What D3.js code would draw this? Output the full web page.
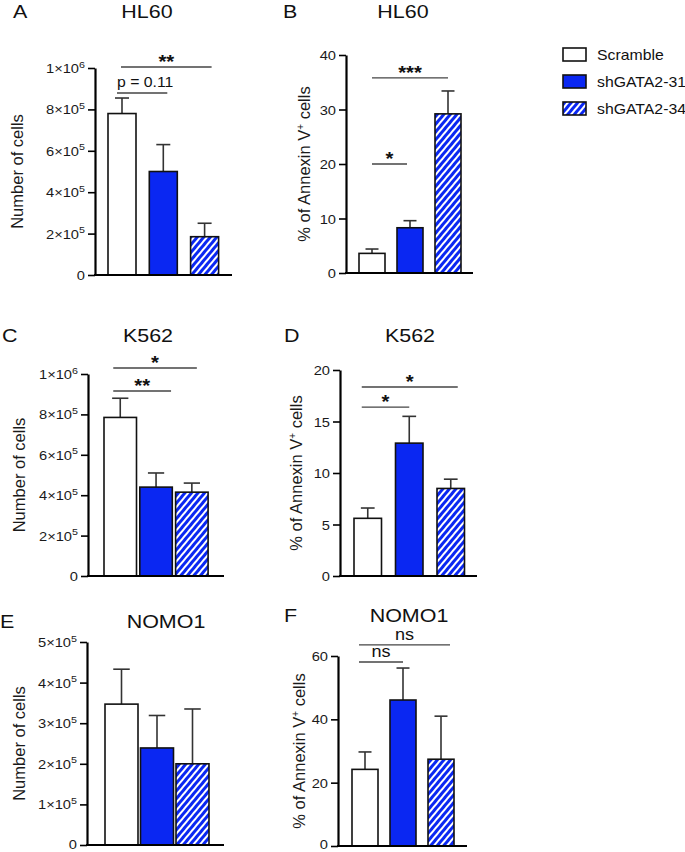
<!DOCTYPE html>
<html><head><meta charset="utf-8">
<script src="https://cdn.jsdelivr.net/npm/d3@7"></script>
<style>body{margin:0;background:#fff} svg{display:block}</style>
</head><body>
<svg id="chart" width="685" height="852"></svg>
<script>
// ---------- DATA ----------
const groups = ["Scramble", "shGATA2-31", "shGATA2-34"];

const hl60Cells = [7.8e5, 5.0e5, 1.85e5];
const hl60CellsErr = [0.75e5, 1.3e5, 0.65e5];
const hl60Annexin = [3.6, 8.3, 29.2];
const hl60AnnexinErr = [0.8, 1.3, 4.2];
const k562Cells = [7.85e5, 4.4e5, 4.15e5];
const k562CellsErr = [0.95e5, 0.7e5, 0.45e5];
const k562Annexin = [5.6, 12.9, 8.5];
const k562AnnexinErr = [1.0, 2.6, 0.9];
const nomo1Cells = [3.47e5, 2.39e5, 2.0e5];
const nomo1CellsErr = [0.86e5, 0.8e5, 1.35e5];
const nomo1Annexin = [24.2, 46.1, 27.4];
const nomo1AnnexinErr = [5.5, 10.1, 13.6];

const cellTicks1e6 = [0, 2e5, 4e5, 6e5, 8e5, 1e6];
const cellTicks5e5 = [0, 1e5, 2e5, 3e5, 4e5, 5e5];
const annexinTicks40 = [0, 10, 20, 30, 40];
const annexinTicks20 = [0, 5, 10, 15, 20];
const annexinTicks60 = [0, 20, 40, 60];

// significance comparisons: [from group, to group, level (data units), label]
const sigA = [[0, 2, 1.005e6, "**"], [0, 1, 0.879e6, "p = 0.11"]];
const sigB = [[0, 2, 35.8, "***"], [0, 1, 20.0, "*"]];
const sigC = [[0, 2, 1.03e6, "*"], [0, 1, 0.916e6, "**"]];
const sigD = [[0, 2, 18.35, "*"], [0, 1, 16.4, "*"]];
const sigE = [];
const sigF = [[0, 2, 63.5, "ns"], [0, 1, 58.1, "ns"]];

// ---------- LAYOUT ----------
const FONT = "'Liberation Sans', Arial, Helvetica, sans-serif";
const SX = 1.13; // horizontal stretch of text in the reference
const BLUE = "#0a27f2";
const cellLabel = "Number of cells";

const panels = [
  {letter: "A", title: "HL60", values: hl60Cells, errs: hl60CellsErr, ticks: cellTicks1e6, sci: true, ylab: "cells",
   ax: 95, axEnd: 232, y0: 275, y1: 68, barStart: 108, bw: 28, gap: 13.3, sig: sigA, sigOff: [[-1, 7], [-5, 4]],
   titleX: 147, titleY: 18, letterX: 13, labX: 23},
  {letter: "B", title: "HL60", values: hl60Annexin, errs: hl60AnnexinErr, ticks: annexinTicks40, sci: false, ylab: "annexin",
   ax: 346, axEnd: 473, y0: 273, y1: 55, barStart: 359, bw: 26, gap: 12, sig: sigB, sigOff: [[0, 0], [0, -3]],
   titleX: 403, titleY: 18, letterX: 283, labX: 310},
  {letter: "C", title: "K562", values: k562Cells, errs: k562CellsErr, ticks: cellTicks1e6, sci: true, ylab: "cells",
   ax: 88, axEnd: 224, y0: 576, y1: 374, barStart: 104, bw: 32.5, gap: 3.3, sig: sigC, sigOff: [[-7, 5], [-7, 15]],
   titleX: 148, titleY: 342, letterX: 2, labX: 25},
  {letter: "D", title: "K562", values: k562Annexin, errs: k562AnnexinErr, ticks: annexinTicks20, sci: false, ylab: "annexin",
   ax: 340, axEnd: 477, y0: 576, y1: 370, barStart: 354, bw: 27.5, gap: 14, sig: sigD, sigOff: [[-6, 7], [-6, 0]],
   titleX: 410, titleY: 342, letterX: 284, labX: 302},
  {letter: "E", title: "NOMO1", values: nomo1Cells, errs: nomo1CellsErr, ticks: cellTicks5e5, sci: true, ylab: "cells",
   ax: 87, axEnd: 224, y0: 845, y1: 642, barStart: 105, bw: 33, gap: 2.5, sig: sigE, sigOff: [],
   titleX: 166, titleY: 628, letterX: 0, labX: 25},
  {letter: "F", title: "NOMO1", values: nomo1Annexin, errs: nomo1AnnexinErr, ticks: annexinTicks60, sci: false, ylab: "annexin",
   ax: 338, axEnd: 467, y0: 846, y1: 656, barStart: 352, bw: 26, gap: 12, sig: sigF, sigOff: [[-6, 9], [-6, 0]],
   titleX: 409, titleY: 622, letterX: 284, labX: 305}
];

const svg = d3.select("#chart");
const defs = svg.append("defs");
const pat = defs.append("pattern").attr("id", "hatch")
  .attr("patternUnits", "userSpaceOnUse").attr("width", 5).attr("height", 5)
  .attr("patternTransform", "rotate(40)");
pat.append("rect").attr("width", 5).attr("height", 5).attr("fill", BLUE);
pat.append("rect").attr("x", 0).attr("width", 2).attr("height", 5).attr("fill", "#fff");

const fills = [ "#fff", BLUE, "url(#hatch)" ];

function stext(g, x, y, str, size, anchor, weight) {
  return g.append("text")
    .attr("transform", `translate(${x},${y}) scale(${SX},1)`)
    .attr("text-anchor", anchor || "middle")
    .attr("font-family", FONT).attr("font-size", size)
    .attr("font-weight", weight || "normal")
    .attr("fill", "#111").text(str);
}

panels.forEach(p => {
  const g = svg.append("g");
  const maxV = p.ticks[p.ticks.length - 1];
  const y = d3.scaleLinear().domain([0, maxV]).range([p.y0, p.y1]);
  const step = p.bw + p.gap;
  const x = d3.scaleBand().domain(groups)
    .range([p.barStart - p.gap / 2, p.barStart - p.gap / 2 + 3 * step])
    .paddingInner(p.gap / step).paddingOuter(p.gap / step / 2);

  // titles
  stext(g, p.titleX, p.titleY, p.title, 19);
  stext(g, p.letterX, p.titleY, p.letter, 19, "start");

  // y axis
  const axis = d3.axisLeft(y).tickValues(p.ticks).tickSize(7).tickSizeOuter(0).tickPadding(2);
  const ag = g.append("g").attr("transform", `translate(${p.ax},0)`).call(axis);
  ag.select(".domain").attr("stroke", "#000").attr("stroke-width", 2.2);
  ag.selectAll(".tick line").attr("stroke", "#000").attr("stroke-width", 1.6);
  ag.selectAll(".tick text").each(function(d) {
    const t = d3.select(this);
    const dy = Math.min(4.5, 848 - y(d));
    t.text(null).attr("x", null).attr("dy", null)
      .attr("transform", `translate(-10,${dy}) scale(${SX},1)`)
      .attr("font-family", FONT).attr("font-size", 13).attr("fill", "#1a1a1a")
      .attr("text-anchor", "end");
    if (p.sci && d !== 0) {
      const e = Math.floor(Math.log10(d) + 1e-9);
      const m = Math.round(d / Math.pow(10, e));
      t.append("tspan").text(m + "\u00d710");
      t.append("tspan").attr("dy", -5.5).attr("font-size", 9.5).text(e);
    } else {
      t.text(d);
    }
  });

  // y label
  const lab = g.append("text")
    .attr("transform", `translate(${p.labX},${(p.y0 + p.y1) / 2}) rotate(-90)`)
    .attr("text-anchor", "middle").attr("font-family", FONT)
    .attr("font-size", 16.5).attr("fill", "#1a1a1a");
  if (p.ylab === "cells") {
    lab.text(cellLabel);
  } else {
    lab.append("tspan").text("% of Annexin V");
    lab.append("tspan").attr("dy", -6).attr("font-size", 10).text("+");
    lab.append("tspan").attr("dy", 6).text(" cells");
  }

  // error bars
  const capW = p.bw * 0.5;
  groups.forEach((grp, i) => {
    const cx = x(grp) + x.bandwidth() / 2;
    const top = y(p.values[i] + p.errs[i]);
    g.append("line").attr("x1", cx).attr("x2", cx)
      .attr("y1", y(p.values[i])).attr("y2", top)
      .attr("stroke", "#333").attr("stroke-width", 1.6);
    g.append("line").attr("x1", cx - capW / 2).attr("x2", cx + capW / 2)
      .attr("y1", top).attr("y2", top)
      .attr("stroke", "#333").attr("stroke-width", 1.6);
  });

  // bars
  g.selectAll("rect.bar").data(p.values).enter().append("rect")
    .attr("class", "bar")
    .attr("x", (d, i) => x(groups[i]))
    .attr("width", x.bandwidth())
    .attr("y", d => y(d))
    .attr("height", d => p.y0 - y(d))
    .attr("fill", (d, i) => fills[i])
    .attr("stroke", "#111").attr("stroke-width", 1.6);

  // x axis line
  g.append("line").attr("x1", p.ax - 1).attr("x2", p.axEnd)
    .attr("y1", p.y0).attr("y2", p.y0).attr("stroke", "#000").attr("stroke-width", 2.2);

  // significance
  p.sig.forEach((s, k) => {
    const [a, b, lvl, txt] = s;
    const off = p.sigOff[k];
    const xa = x(groups[a]) + x.bandwidth() / 2 + off[0];
    const xb = x(groups[b]) + x.bandwidth() / 2 + off[1];
    const ly = y(lvl);
    g.append("line").attr("x1", xa).attr("x2", xb).attr("y1", ly).attr("y2", ly)
      .attr("stroke", "#444").attr("stroke-width", 1.4);
    let size = 18, base = ly + 1;
    if (txt === "ns") { size = 16; base = ly - 5; }
    else if (txt.startsWith("p")) { size = 14; base = ly - 6.5; }
    stext(g, (xa + xb) / 2 + (txt.startsWith("p") ? 3 : 0), base, txt, size, "middle", txt.startsWith("*") ? "bold" : "normal");
  });
});

// legend
const lg = svg.append("g");
groups.forEach((grp, i) => {
  const ly = 48 + i * 27;
  lg.append("rect").attr("x", 563).attr("y", ly).attr("width", 23).attr("height", 13)
    .attr("fill", fills[i]).attr("stroke", "#111").attr("stroke-width", 1.6);
  stext(lg, 597, ly + 11.5, grp, 14, "start");
});
</script>
</body></html>
